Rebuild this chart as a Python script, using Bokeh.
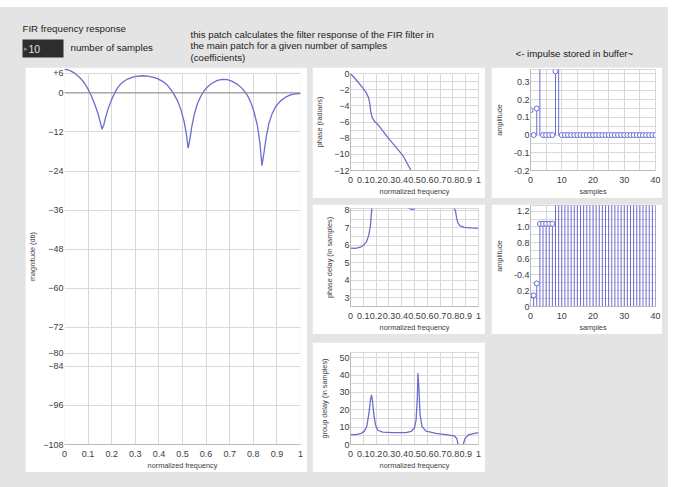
from bokeh.plotting import figure
from bokeh.layouts import row, column
from bokeh.models import (FixedTicker, Range1d, Label, BoxAnnotation, Span, Spacer,
                          ColumnDataSource)
from bokeh.embed import file_html
from bokeh.resources import INLINE

# ---------------- data ----------------
freq_ticks = [0, 0.1, 0.2, 0.3, 0.4, 0.5, 0.6, 0.7, 0.8, 0.9, 1]
freq_labels = ["0", "0.1", "0.2", "0.3", "0.4", "0.5", "0.6", "0.7", "0.8", "0.9", "1"]

mag_ticks = [6, 0, -12, -24, -36, -48, -60, -72, -80, -84, -96, -108]
mag_f = [0.0, 0.0141, 0.0282, 0.0423, 0.0563, 0.0704, 0.0845, 0.0986, 0.1127, 0.1268,
         0.1408, 0.1521, 0.1592, 0.1662, 0.1732, 0.1831, 0.1972, 0.2113, 0.2254, 0.2394,
         0.2535, 0.2676, 0.2887, 0.3099, 0.3310, 0.3521, 0.3732, 0.3944, 0.4155, 0.4366,
         0.4507, 0.4648, 0.4789, 0.4930, 0.5070, 0.5169, 0.5239, 0.5310, 0.5394, 0.5493,
         0.5634, 0.5775, 0.5915, 0.6056, 0.6268, 0.6479, 0.6690, 0.6901, 0.7113, 0.7324,
         0.7535, 0.7746, 0.7887, 0.8028, 0.8169, 0.8282, 0.8366, 0.8451, 0.8549, 0.8662,
         0.8803, 0.8944, 0.9155, 0.9366, 0.9577, 0.9789, 1.0]
mag_db = [7.21, 7.11, 6.70, 6.09, 5.28, 4.26, 3.05, 1.32, -0.71, -3.25,
          -6.09, -9.14, -11.17, -9.85, -7.82, -5.28, -2.44, -0.20, 1.62, 2.84,
          3.65, 4.26, 4.87, 5.18, 5.28, 5.18, 4.87, 4.37, 3.55, 2.34,
          1.02, -0.51, -2.44, -5.08, -8.83, -12.89, -16.95, -14.42, -10.36, -6.80,
          -3.25, -1.02, 0.61, 1.83, 3.05, 3.86, 4.16, 4.06, 3.55, 2.64,
          1.32, -0.71, -2.74, -5.79, -9.85, -15.43, -22.34, -18.48, -13.40, -9.34,
          -6.29, -4.26, -2.44, -1.32, -0.61, -0.30, -0.20]

phase_f = [0.0, 0.049, 0.096, 0.122, 0.140, 0.151, 0.158, 0.169, 0.187, 0.213, 0.252,
           0.304, 0.356, 0.408, 0.473, 0.5]
phase_rad = [0.0, -0.87, -1.77, -2.36, -2.95, -3.74, -4.72, -5.43, -5.91, -6.30, -7.09,
             -8.15, -9.13, -10.12, -12.0, -12.7]

pdelay_f = [0.0, 0.039, 0.077, 0.103, 0.124, 0.142, 0.155, 0.162, 0.168, 0.2, 0.35,
            0.425, 0.451, 0.477, 0.495, 0.510, 0.52, 0.6, 0.75, 0.799, 0.820, 0.830,
            0.840, 0.856, 0.889, 0.941, 1.0]
pdelay = [5.84, 5.82, 5.89, 6.01, 6.19, 6.55, 7.08, 7.70, 8.23, 9.0, 9.0,
          8.27, 8.14, 8.05, 8.05, 8.2, 8.35, 9.0, 9.0, 8.27, 7.96, 7.52,
          7.26, 7.11, 7.02, 6.99, 6.97]

gdelay_f = [0.0, 0.044, 0.083, 0.109, 0.127, 0.143, 0.156, 0.164, 0.171, 0.182, 0.195,
            0.213, 0.252, 0.330, 0.434, 0.473, 0.499, 0.512, 0.522, 0.527, 0.535, 0.543,
            0.558, 0.590, 0.668, 0.745, 0.81, 0.83, 0.84, 0.845, 0.875, 0.882, 0.895,
            0.92, 0.96, 1.0]
gdelay = [5.7, 5.7, 6.4, 7.7, 10.4, 17.5, 25.5, 28.6, 25.5, 17.5, 11.3,
          8.2, 7.1, 6.8, 6.8, 7.5, 9.5, 13.9, 26.4, 41.1, 31.8, 17.5,
          10.4, 7.7, 6.4, 5.7, 5.0, 3.5, 0.5, -3.0, -3.0, 0.5, 3.5,
          5.5, 6.3, 6.8]

samples = list(range(41))
impulse = [0.14, 0.0, 0.15, 0.75, 0.0, 0.0, 0.0, 0.0, 0.36, 0.84] + [0.0] * 31
step = [0.14, 0.14, 0.29, 1.04, 1.04, 1.04, 1.04, 1.04, 1.40] + [2.24] * 32

imp_ticks = [-0.2, -0.1, 0, 0.1, 0.2, 0.3]
imp_labels = ["-0.2", "-0.1", "0", "0.1", "0.2", "0.3"]
step_ticks = [0, 0.2, 0.4, 0.6, 0.8, 1.0, 1.2]
step_labels = ["0", "0.2", "-0.4", "0.6", "0.8", "1.0", "1.2"]
sample_ticks = [0, 10, 20, 30, 40]

# ---------------- styles ----------------
BG = "#e4e4e4"
GRID = "#d9d9d9"
CURVE = "#6c6cd0"
TXT = "#3c3c3c"
TICKFONT = "Liberation Sans"
LABFONT = "Liberation Sans"


def base_fig(w, h, xr, yr, bl, br, bt, bb):
    p = figure(width=w, height=h, x_range=Range1d(*xr), y_range=Range1d(*yr),
               output_backend="svg", toolbar_location=None,
               min_border_left=bl, min_border_right=br, min_border_top=bt,
               min_border_bottom=bb)
    p.background_fill_color = "white"
    p.border_fill_color = "white"
    p.outline_line_color = GRID
    for ax in (p.xaxis[0], p.yaxis[0]):
        ax.major_tick_line_color = None
        ax.minor_tick_line_color = None
        ax.major_tick_out = 0
        ax.major_tick_in = 0
        ax.minor_tick_out = 0
        ax.minor_tick_in = 0
        ax.axis_line_color = "#bbbbbb"
        ax.major_label_text_font = TICKFONT
        ax.major_label_text_font_size = "9px"
        ax.major_label_text_color = TXT
        ax.axis_label_text_font = LABFONT
        ax.axis_label_text_font_size = "7.3px"
        ax.axis_label_text_font_style = "normal"
        ax.axis_label_text_color = TXT
    p.xaxis.major_label_standoff = 6
    p.xaxis.axis_label_standoff = 1
    p.yaxis.major_label_standoff = 1
    p.yaxis.axis_label_standoff = 7
    p.xgrid.grid_line_color = GRID
    p.ygrid.grid_line_color = GRID
    return p


def freq_axis(p):
    p.xaxis.ticker = FixedTicker(ticks=freq_ticks)
    p.xaxis.major_label_overrides = dict(zip(freq_ticks, freq_labels))
    p.xgrid.ticker = FixedTicker(ticks=freq_ticks)
    p.xaxis.axis_label = "normalized frequency"


# ---------------- header ----------------
hdr = figure(width=668, height=60, x_range=Range1d(0, 668), y_range=Range1d(67, 7),
             x_axis_type=None, y_axis_type=None, output_backend="svg",
             toolbar_location=None, min_border=0)
hdr.background_fill_color = BG
hdr.border_fill_color = BG
hdr.outline_line_color = None
hdr.grid.visible = False
hdr.add_layout(BoxAnnotation(left=22, right=63, top=39, bottom=57, fill_color="#2e2e2e",
                             fill_alpha=1, line_color=None))
hfont = dict(text_font="Liberation Sans", text_font_size="9.7px", text_color="#222222",
             text_baseline="middle")
hdr.add_layout(Label(x=22, y=28, text="FIR frequency response", **hfont))
hdr.add_layout(Label(x=70, y=47, text="number of samples", **hfont))
hdr.add_layout(Label(x=190, y=33.5, text="this patch calculates the filter response of the FIR filter in", **hfont))
hdr.add_layout(Label(x=190, y=45, text="the main patch for a given number of samples", **hfont))
hdr.add_layout(Label(x=190, y=56.5, text="(coefficients)", **hfont))
hdr.add_layout(Label(x=515, y=52.5, text="<- impulse stored in buffer~", **hfont))
hdr.add_layout(Label(x=23.5, y=48, text="\u25B8", text_font="DejaVu Sans", text_font_size="7px",
                     text_color="#888888", text_baseline="middle"))
hdr.add_layout(Label(x=28, y=48, text="10", text_font="Liberation Sans", text_font_size="10.5px",
                     text_color="#e0e0e0", text_baseline="middle"))

# ---------------- main magnitude plot ----------------
pm = base_fig(282, 405, (0, 1), (-108, 7.5), 38, 7, 1, 21)
freq_axis(pm)
pm.yaxis.ticker = FixedTicker(ticks=mag_ticks)
pm.yaxis.major_label_overrides = {6: "+6"}
pm.ygrid.ticker = FixedTicker(ticks=mag_ticks)
pm.xgrid.cross_bounds = (-108, 6)
pm.yaxis.axis_label = "magnitude (db)"
pm.yaxis.axis_label_standoff = 3
pm.yaxis[0].axis_line_color = None
pm.outline_line_color = None
pm.add_layout(Span(location=0, dimension="width", line_color="#8a8a8a", line_width=1))
pm.line(mag_f, mag_db, line_color=CURVE, line_width=1.3)

# ---------------- phase ----------------
p1 = base_fig(173, 131, (0, 1), (-12, 0), 37, 7, 6, 23)
freq_axis(p1)
p1.yaxis.ticker = FixedTicker(ticks=[0, -2, -4, -6, -8, -10, -12])
p1.ygrid.ticker = FixedTicker(ticks=list(range(-12, 1)))
p1.yaxis.axis_label = "phase (radians)"
p1.line(phase_f, phase_rad, line_color=CURVE, line_width=1.3)

# ---------------- phase delay ----------------
p2 = base_fig(173, 130, (0, 1), (2.5, 8.1), 37, 7, 4, 21)
freq_axis(p2)
p2.yaxis.ticker = FixedTicker(ticks=[3, 4, 5, 6, 7, 8])
p2.ygrid.ticker = FixedTicker(ticks=[2.5, 3, 3.5, 4, 4.5, 5, 5.5, 6, 6.5, 7, 7.5, 8])
p2.yaxis.axis_label = "phase delay (in samples)"
p2.line(pdelay_f, pdelay, line_color=CURVE, line_width=1.3)

# ---------------- group delay ----------------
p3 = base_fig(173, 130, (0, 1), (0, 53), 37, 7, 10, 21)
freq_axis(p3)
p3.yaxis.ticker = FixedTicker(ticks=[0, 10, 20, 30, 40, 50])
p3.ygrid.ticker = FixedTicker(ticks=[0, 5, 10, 15, 20, 25, 30, 35, 40, 45, 50])
p3.yaxis.axis_label = "group delay (in samples)"
p3.line(gdelay_f, gdelay, line_color=CURVE, line_width=1.3)


# ---------------- impulse / step ----------------
def stem_fig(h, yr, bt, bb, vals, ticks, labels, gridticks):
    p = base_fig(171, h, (0, 40), yr, 37, 7, bt, bb)
    p.xaxis.ticker = FixedTicker(ticks=sample_ticks)
    p.xgrid.ticker = FixedTicker(ticks=list(range(0, 41, 5)))
    p.yaxis.ticker = FixedTicker(ticks=ticks)
    p.yaxis.major_label_overrides = dict(zip(ticks, labels))
    p.ygrid.ticker = FixedTicker(ticks=gridticks)
    p.xaxis.axis_label = "samples"
    p.yaxis.axis_label = "amplitude"
    src = ColumnDataSource(dict(x=samples, y=vals, z=[0] * len(samples)))
    p.segment(x0="x", y0="z", x1="x", y1="y", source=src, line_color=CURVE, line_width=1)
    p.scatter(x="x", y="y", source=src, marker="circle", size=5, line_color=CURVE,
              fill_color="white", line_width=1)
    return p


r1 = stem_fig(131, (-0.2, 0.37), 2, 24, impulse, imp_ticks, imp_labels,
              [-0.2, -0.15, -0.1, -0.05, 0, 0.05, 0.1, 0.15, 0.2, 0.25, 0.3, 0.35])
r2 = stem_fig(130, (0, 1.27), 1, 21, step, step_ticks, step_labels,
              [0, 0.1, 0.2, 0.3, 0.4, 0.5, 0.6, 0.7, 0.8, 0.9, 1.0, 1.1, 1.2])

# ---------------- layout ----------------
mid = column(p1, Spacer(height=6), p2, Spacer(height=8), p3, spacing=0)
right = column(r1, Spacer(height=6), r2, Spacer(height=138), spacing=0)
body = row(Spacer(width=25), pm, Spacer(width=5), mid, Spacer(width=6), right,
           Spacer(width=6), spacing=0)
root = column(hdr, body, Spacer(height=15), spacing=0,
              styles={"background-color": BG}, margin=(7, 0, 0, 0))

open("out.html", "w").write(file_html(root, INLINE))
